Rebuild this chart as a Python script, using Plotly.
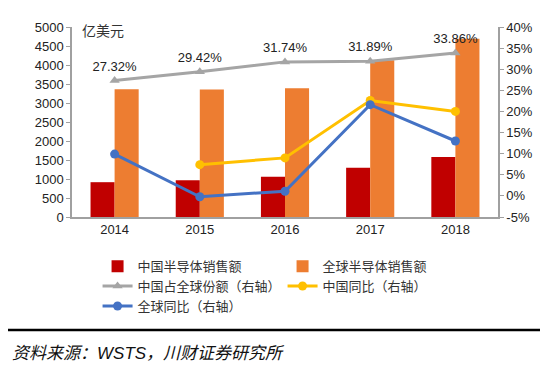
import plotly.graph_objects as go

years = ["2014", "2015", "2016", "2017", "2018"]
china_sales = [916, 966, 1061, 1298, 1579]
global_sales = [3359, 3352, 3389, 4122, 4688]
china_share = [27.32, 29.42, 31.74, 31.89, 33.86]
china_yoy = [None, 7.4, 9.0, 22.6, 20.0]
global_yoy = [9.9, -0.2, 1.1, 21.6, 13.0]
share_labels = ["27.32%", "29.42%", "31.74%", "31.89%", "33.86%"]

left_ticks = list(range(0, 5001, 500))
right_ticks = list(range(-5, 41, 5))
right_ticklabels = [f"{v}%" for v in right_ticks]

CJK = "Noto Sans CJK SC"
LAT = "Liberation Sans, Arial"

fig = go.Figure()
fig.add_trace(go.Bar(x=years, y=china_sales, name="中国半导体销售额",
                     marker=dict(color="#C00000", line=dict(width=0)), yaxis="y"))
fig.add_trace(go.Bar(x=years, y=global_sales, name="全球半导体销售额",
                     marker=dict(color="#ED7D31", line=dict(width=0)), yaxis="y"))
fig.add_trace(go.Scatter(x=years, y=china_share, name="中国占全球份额（右轴）", yaxis="y2",
                         mode="lines+markers+text", text=share_labels, textposition="top center",
                         textfont=dict(family=LAT, size=13, color="#222"),
                         line=dict(color="#A5A5A5", width=3),
                         marker=dict(symbol="triangle-up", size=9, color="#A5A5A5")))
fig.add_trace(go.Scatter(x=years, y=china_yoy, name="中国同比（右轴）", yaxis="y2",
                         mode="lines+markers", line=dict(color="#FFC000", width=3),
                         marker=dict(symbol="circle", size=9, color="#FFC000")))
fig.add_trace(go.Scatter(x=years, y=global_yoy, name="全球同比（右轴）", yaxis="y2",
                         mode="lines+markers", line=dict(color="#4472C4", width=3),
                         marker=dict(symbol="circle", size=9, color="#4472C4")))

# page body adds an 8px offset; margins compensate so the plot sits at 72..498 x 27..217
fig.update_layout(
    width=550, height=365,
    margin=dict(l=64, r=60, t=19, b=156),
    paper_bgcolor="white", plot_bgcolor="white",
    barmode="group", bargap=0.435, bargroupgap=0,
    showlegend=True,
    legend=dict(orientation="h", x=0.06, xanchor="left", y=-0.18, yanchor="top",
                entrywidth=140, entrywidthmode="pixels",
                font=dict(family=CJK, size=13, color="#333"),
                bgcolor="rgba(0,0,0,0)", itemwidth=30, traceorder="normal"),
    font=dict(family=LAT, size=13, color="#222"),
    xaxis=dict(type="category", showline=True, linecolor="#A0A0A0", linewidth=1.5,
               ticks="", showgrid=False, tickfont=dict(family=LAT, size=13, color="#222")),
    yaxis=dict(range=[0, 5000], tickvals=left_ticks, showline=True, linecolor="#A0A0A0",
               linewidth=1.5, ticks="outside", ticklen=4, tickcolor="#A0A0A0",
               showgrid=False, zeroline=False, tickfont=dict(family=LAT, size=13, color="#222")),
    yaxis2=dict(range=[-5, 40], tickvals=right_ticks, ticktext=right_ticklabels,
                overlaying="y", side="right", showline=True, linecolor="#A0A0A0",
                linewidth=1.5, ticks="outside", ticklen=4, tickcolor="#A0A0A0",
                showgrid=False, zeroline=False, tickfont=dict(family=LAT, size=13, color="#222")),
    shapes=[
        dict(type="line", xref="paper", yref="paper", x0=-64/426, x1=468/426,
             y0=1 + 20/190, y1=1 + 20/190, line=dict(color="#C00000", width=2)),
        dict(type="line", xref="paper", yref="paper", x0=-64/426, x1=468/426,
             y0=-113/190, y1=-113/190, line=dict(color="black", width=2.5)),
    ],
    annotations=[
        dict(text="亿美元", xref="paper", yref="paper", x=8/426, y=1 - 3/190,
             xanchor="left", yanchor="middle", showarrow=False,
             font=dict(family=CJK, size=14, color="#333")),
        dict(text="<i>资料来源：<span style='font-family:Liberation Sans'>WSTS</span>，川财证券研究所</i>",
             xref="paper", yref="paper",
             x=-62/426, y=-134/190, xanchor="left", yanchor="middle", showarrow=False,
             font=dict(family=CJK, size=17, color="#111")),
    ],
)

fig.write_html("out.html")
